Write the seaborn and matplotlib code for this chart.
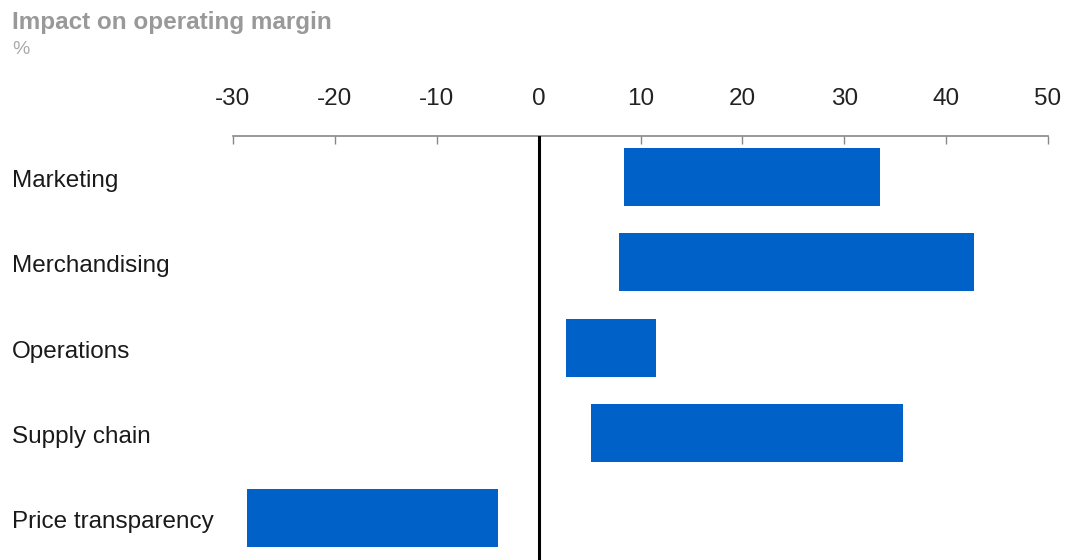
import matplotlib
matplotlib.use("Agg")
import matplotlib.pyplot as plt
import matplotlib.transforms as mtransforms
import seaborn as sns
import pandas as pd

categories = ["Marketing", "Merchandising", "Operations", "Supply chain", "Price transparency"]
range_start = [8.4, 7.9, 2.7, 5.1, -28.6]
range_end = [33.5, 42.7, 11.5, 35.8, -4.0]
x_ticks = [-30, -20, -10, 0, 10, 20, 30, 40, 50]

title_text = "Impact on operating margin"
unit_text = "%"

bar_color = "#0062C8"

sns.set_theme(style="white")
plt.rcParams["font.family"] = ["Liberation Sans", "DejaVu Sans"]

W, H = 1069, 560
fig = plt.figure(figsize=(W / 100, H / 100), dpi=100)

# axes placed in pixel terms: x from -30..50, top spine is the value axis
left_px, right_px, top_px, bottom_px = 233, 1048, 136, 560
ax = fig.add_axes([left_px / W, 1 - bottom_px / H,
                   (right_px - left_px) / W, (bottom_px - top_px) / H])

df = pd.DataFrame({
    "category": categories,
    "start": range_start,
    "span": [e - s for s, e in zip(range_start, range_end)],
})

sns.barplot(data=df, x="span", y="category", orient="h", color=bar_color,
            width=0.68, saturation=1, ax=ax)

# shift each bar so it floats from its start value
for patch, s in zip(ax.patches, df["start"]):
    patch.set_x(s)
    patch.set_edgecolor("none")

ax.set_xlim(-30, 50)
ax.set_ylim(4.49, -0.48)
ax.axvline(0, color="black", lw=2.2, zorder=5)

ax.xaxis.tick_top()
ax.set_xticks(x_ticks)
ax.set_xticklabels([str(t) for t in x_ticks], fontsize=17.5, color="#222222")
ax.tick_params(axis="x", direction="in", length=6, width=1, color="#888888",
               pad=19, top=True, bottom=False)

ax.set_yticks(range(len(categories)))
ax.set_yticklabels(categories, fontsize=17.5, color="#1a1a1a", ha="left",
                   va="center")
ax.tick_params(axis="y", length=0, pad=(left_px - 12) * 72 / 100)
# nudge category labels slightly below the bar centres
shift = mtransforms.ScaledTranslation(0, -4 / 100, fig.dpi_scale_trans)
for lbl in ax.get_yticklabels():
    lbl.set_transform(lbl.get_transform() + shift)

ax.set_xlabel("")
ax.set_ylabel("")
for side in ["left", "right", "bottom"]:
    ax.spines[side].set_visible(False)
ax.spines["top"].set_color("#888888")
ax.spines["top"].set_linewidth(1.2)

fig.text(12 / W, 1 - 22 / H, title_text, fontsize=17.5, fontweight="bold",
         color="#999999", ha="left", va="center")
fig.text(12 / W, 1 - 49 / H, unit_text, fontsize=14, color="#aaaaaa",
         ha="left", va="center")

fig.savefig("out.png", dpi=100)
